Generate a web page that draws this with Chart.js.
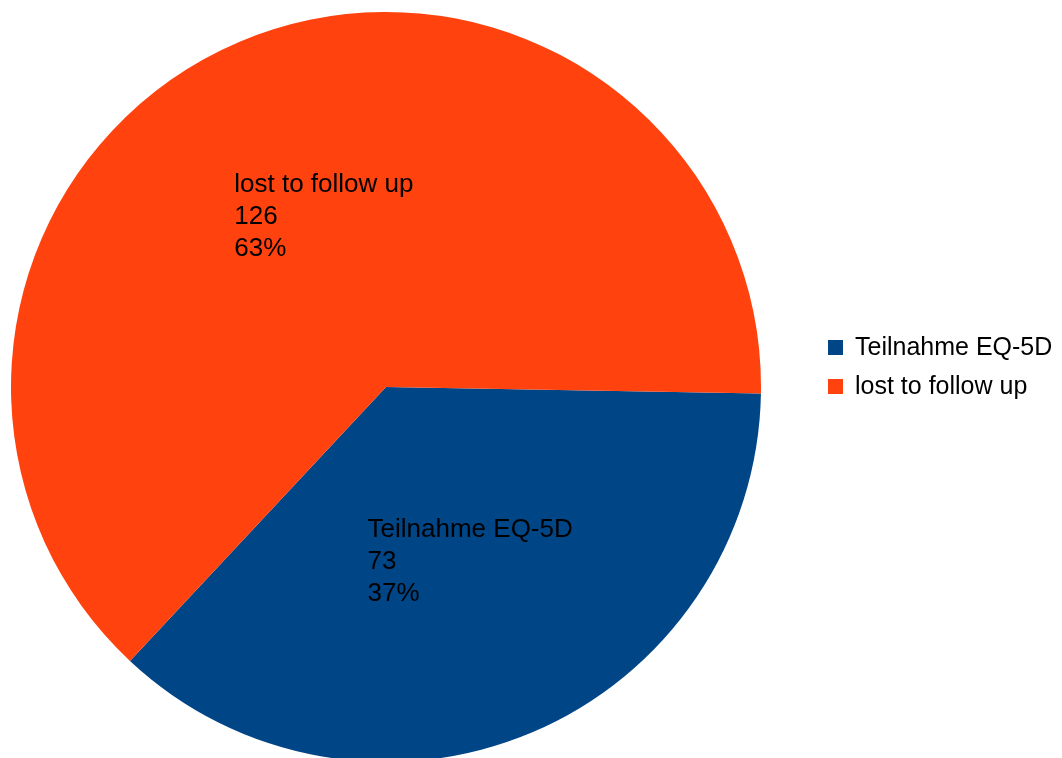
<!DOCTYPE html>
<html>
<head>
<meta charset="utf-8">
<script src="https://cdn.jsdelivr.net/npm/chart.js@4/dist/chart.umd.min.js"></script>
<style>
    html, body { margin: 0; padding: 0; background: #fff; overflow: hidden; }
    #wrap { position: relative; width: 1062px; height: 772px; }
</style>
</head>
<body>
<div id="wrap"><canvas id="pieChart"></canvas></div>
<script>
const categories = ['Teilnahme EQ-5D', 'lost to follow up'];
const counts = [73, 126];
const colors = ['#004586', '#ff420e'];

const LABEL_FONT = '26px "Liberation Sans", Arial, sans-serif';
const LEGEND_FONT = '25px "Liberation Sans", Arial, sans-serif';
const total = counts.reduce((a, b) => a + b, 0);

// Value labels inside each slice: name, count, percent
const sliceLabels = {
    id: 'sliceLabels',
    afterDatasetsDraw(chart) {
        const ctx = chart.ctx;
        const meta = chart.getDatasetMeta(0);
        ctx.save();
        ctx.font = LABEL_FONT;
        ctx.fillStyle = '#000';
        ctx.textAlign = 'left';
        ctx.textBaseline = 'middle';
        meta.data.forEach((arc, i) => {
            const pos = arc.tooltipPosition();
            const lines = [categories[i], String(counts[i]), Math.round(counts[i] / total * 100) + '%'];
            const w = Math.max(...lines.map(l => ctx.measureText(l).width));
            const lh = 32;
            const x = pos.x - w / 2 + 11;
            const y0 = pos.y - lh + 2;
            lines.forEach((l, k) => ctx.fillText(l, x, y0 + k * lh));
        });
        ctx.restore();
    }
};

// Legend drawn at the right of the pie
const sideLegend = {
    id: 'sideLegend',
    afterDraw(chart) {
        const ctx = chart.ctx;
        ctx.save();
        ctx.font = LEGEND_FONT;
        ctx.textBaseline = 'middle';
        categories.forEach((c, i) => {
            const y = 348 + i * 39;
            ctx.fillStyle = colors[i];
            ctx.fillRect(828, y - 8, 15, 15);
            ctx.fillStyle = '#000';
            ctx.fillText(c, 855, y);
        });
        ctx.restore();
    }
};

new Chart(document.getElementById('pieChart'), {
    type: 'pie',
    data: {
        labels: categories,
        datasets: [{
            data: counts,
            backgroundColor: colors,
            borderWidth: 0
        }]
    },
    options: {
        responsive: true,
        maintainAspectRatio: false,
        animation: false,
        rotation: 91,
        layout: { padding: { left: 11, top: 12, right: 301, bottom: 10 } },
        plugins: {
            legend: { display: false },
            tooltip: { enabled: false }
        }
    },
    plugins: [sliceLabels, sideLegend]
});
</script>
</body>
</html>
